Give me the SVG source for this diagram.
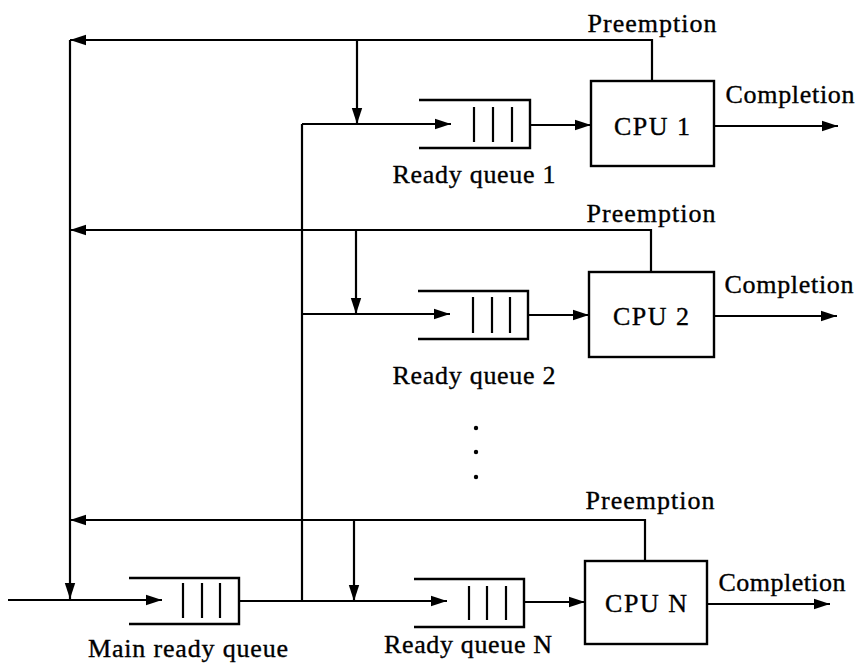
<svg xmlns="http://www.w3.org/2000/svg" width="859" height="669" viewBox="0 0 859 669">
<style>
  .ln { fill: none; stroke: #000; stroke-width: 2.2; }
  .arr { marker-end: url(#ah); }
  .q { fill: none; stroke: #000; stroke-width: 2.4; }
  .bar { stroke: #000; stroke-width: 2.2; }
  .box { fill: #fff; stroke: #000; stroke-width: 2.4; }
  text { font-family: "Liberation Serif", "Times New Roman", serif; font-size: 26px; fill: #000; stroke: #000; stroke-width: 0.35; }
  .mid { text-anchor: middle; }
</style>
<defs>
  <marker id="ah" markerUnits="userSpaceOnUse" markerWidth="17" markerHeight="12" refX="16" refY="6" orient="auto">
    <path d="M0,0.8 L16,6 L0,11.2 z" fill="#000"/>
  </marker>
</defs>
<rect width="859" height="669" fill="#fff"/>

<g id="connectors">
  <!-- preemption feedback -->
  <path class="ln arr" d="M652,81 V40 H70"/>
  <path class="ln arr" d="M651,272 V230 H70"/>
  <path class="ln arr" d="M645,561 V520 H70"/>
  <path class="ln arr" d="M70,40 V599"/>
  <!-- input -->
  <path class="ln arr" d="M8,600 H162"/>
  <!-- distribution stem -->
  <path class="ln" d="M302,124 V601"/>
  <path class="ln arr" d="M302,124 H451"/>
  <path class="ln arr" d="M302,314 H450"/>
  <path class="ln arr" d="M239,601 H447"/>
  <!-- drops from preemption lines -->
  <path class="ln arr" d="M357,40 V124"/>
  <path class="ln arr" d="M356,230 V314"/>
  <path class="ln arr" d="M354,520 V601"/>
  <!-- queue to cpu -->
  <path class="ln arr" d="M530,125 H591"/>
  <path class="ln arr" d="M528,315 H589"/>
  <path class="ln arr" d="M524,602 H585"/>
  <!-- completion -->
  <path class="ln arr" d="M714,126 H838"/>
  <path class="ln arr" d="M714,316 H837"/>
  <path class="ln arr" d="M707,604 H830"/>
  <!-- labels -->
  <text class="mid" x="652" y="32" textLength="129">Preemption</text>
  <text class="mid" x="651" y="222" textLength="129">Preemption</text>
  <text class="mid" x="650" y="509" textLength="129">Preemption</text>
  <text class="mid" x="790" y="103" textLength="129">Completion</text>
  <text class="mid" x="789" y="293" textLength="129">Completion</text>
  <text class="mid" x="782" y="591" textLength="127">Completion</text>
</g>

<g id="main-queue">
  <path class="q" d="M129,578 H239 V624 H129"/>
  <line class="bar" x1="183" y1="583" x2="183" y2="618"/>
  <line class="bar" x1="202" y1="583" x2="202" y2="618"/>
  <line class="bar" x1="220" y1="583" x2="220" y2="618"/>
  <text class="mid" x="188" y="657" textLength="200">Main ready queue</text>
</g>

<g id="queue1">
  <path class="q" d="M419,100 H530 V148 H419"/>
  <line class="bar" x1="474" y1="107" x2="474" y2="142"/>
  <line class="bar" x1="493" y1="107" x2="493" y2="142"/>
  <line class="bar" x1="512" y1="107" x2="512" y2="142"/>
  <text class="mid" x="474" y="183" textLength="163">Ready queue 1</text>
</g>

<g id="queue2">
  <path class="q" d="M418,291 H528 V339 H418"/>
  <line class="bar" x1="473" y1="297" x2="473" y2="333"/>
  <line class="bar" x1="492" y1="297" x2="492" y2="333"/>
  <line class="bar" x1="510" y1="297" x2="510" y2="333"/>
  <text class="mid" x="474" y="384" textLength="163">Ready queue 2</text>
</g>

<g id="queueN">
  <path class="q" d="M414,579 H524 V627 H414"/>
  <line class="bar" x1="469" y1="586" x2="469" y2="620"/>
  <line class="bar" x1="487" y1="586" x2="487" y2="620"/>
  <line class="bar" x1="506" y1="586" x2="506" y2="620"/>
  <text class="mid" x="468" y="653" textLength="168">Ready queue N</text>
</g>

<g id="cpu1">
  <rect class="box" x="591" y="81" width="123" height="85"/>
  <text class="mid" x="652" y="135" textLength="76">CPU 1</text>
</g>

<g id="cpu2">
  <rect class="box" x="589" y="272" width="125" height="85"/>
  <text class="mid" x="651" y="325" textLength="76">CPU 2</text>
</g>

<g id="cpuN">
  <rect class="box" x="585" y="561" width="122" height="83"/>
  <text class="mid" x="646" y="612" textLength="82">CPU N</text>
</g>

<g id="ellipsis">
  <circle cx="476" cy="428" r="2.2"/>
  <circle cx="476" cy="452" r="2.2"/>
  <circle cx="476" cy="477" r="2.2"/>
</g>
</svg>
